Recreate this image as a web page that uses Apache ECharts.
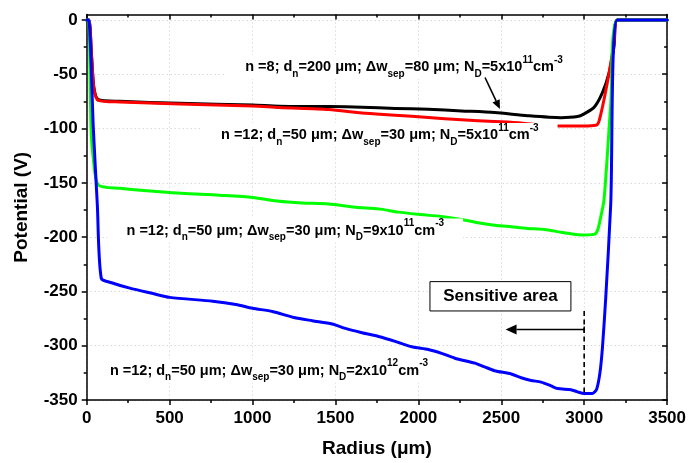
<!DOCTYPE html>
<html>
<head>
<meta charset="utf-8">
<script src="https://cdn.jsdelivr.net/npm/echarts@6/dist/echarts.min.js"></script>
<style>
  html, body { margin: 0; padding: 0; background: #fff; }
  #chart { width: 689px; height: 463px; }
</style>
</head>
<body>
<div id="chart"></div>
<script>
// Radial potential profiles (radius in µm, potential in V)
const blackRadius = [0, 14, 30, 44, 70, 200, 560, 1000, 1160, 1460, 1660, 1860, 2060, 2260, 2460, 2660, 2860, 2960, 3000, 3060, 3110, 3150, 3180, 3200, 3500];
const blackPotential = [0, 0, -35, -63, -73.5, -75, -76.8, -78.4, -79.5, -79.8, -80.3, -81.5, -82.3, -83.8, -85.3, -88.2, -90, -89, -86.5, -80.5, -67, -48.7, -24.4, 0, 0];

const redRadius = [0, 14, 30, 44, 70, 200, 560, 1000, 1160, 1460, 1660, 1860, 2060, 2260, 2460, 2620, 2720, 2820, 3000, 3070, 3085, 3100, 3120, 3150, 3180, 3200, 3500];
const redPotential = [0, 0, -35, -64, -74, -75.5, -77.5, -79.2, -80.7, -82.5, -85.7, -87.7, -89.9, -92, -93.5, -94.8, -96.5, -97.6, -97.7, -97, -95, -87, -73, -49, -21, 0, 0];

const greenRadius = [0, 12, 26, 40, 70, 200, 500, 800, 1000, 1160, 1300, 1460, 1620, 1760, 1880, 2000, 2140, 2250, 2350, 2460, 2560, 2660, 2760, 2860, 2980, 3060, 3080, 3095, 3120, 3160, 3200, 3500];
const greenPotential = [0, 0, -99, -128, -152, -155, -159, -161.5, -163.5, -167, -168.5, -169.5, -172.5, -174, -177, -179, -181, -183.5, -186.5, -189, -190.5, -192, -193, -195.5, -198, -197.5, -194, -185, -165, -78, 0, 0];

const blueRadius = [0, 12, 40, 64, 88, 150, 260, 400, 500, 760, 900, 1000, 1120, 1250, 1360, 1480, 1560, 1660, 1760, 1860, 1960, 2060, 2140, 2220, 2340, 2400, 2460, 2560, 2620, 2680, 2740, 2800, 2840, 2920, 2960, 3000, 3050, 3075, 3095, 3110, 3130, 3160, 3200, 3500];
const bluePotential = [0, 0, -100, -170, -238, -242, -247, -252, -255.5, -259, -262, -265.5, -268.5, -274, -277, -280, -284, -288, -291.5, -296, -301, -303.5, -307, -311.5, -316, -319.5, -323, -326, -329.5, -332, -333.5, -337, -339.5, -340.5, -342.5, -344, -344, -340, -325, -302, -256, -170, 0, 0];

// Axis ticks
const radiusTicks = [0, 500, 1000, 1500, 2000, 2500, 3000, 3500];
const potentialTicks = [-350, -300, -250, -200, -150, -100, -50, 0];

const FONT = 'Liberation Sans, Arial, Helvetica, sans-serif';

const pairs = (xs, ys) => xs.map((x, i) => [x, ys[i]]);

const chart = echarts.init(document.getElementById('chart'), null, { renderer: 'canvas' });

const frameLine = { show: true, onZero: false, lineStyle: { color: '#000', width: 1.5 } };
const tickStyle = { color: '#000', width: 1.5 };

function curve(name, color, xs, ys) {
  return {
    name, type: 'line', xAxisIndex: 0, yAxisIndex: 0,
    data: pairs(xs, ys),
    showSymbol: false, symbol: 'none',
    smooth: 0.25,
    lineStyle: { color, width: 3, join: 'round', cap: 'round' },
    itemStyle: { color },
    animation: false
  };
}

chart.setOption({
  backgroundColor: '#fff',
  animation: false,
  grid: { left: 86.7, right: 19, top: 14.5, bottom: 60, containLabel: false },
  xAxis: [
    {
      type: 'value', position: 'bottom', min: 0, max: 3500, interval: 500,
      axisLine: frameLine,
      axisTick: { show: true, length: 5, inside: false, lineStyle: tickStyle },
      minorTick: { show: true, splitNumber: 2, length: 3, lineStyle: tickStyle },
      axisLabel: {
        show: true, margin: 10, color: '#000', fontFamily: FONT, fontWeight: 'bold', fontSize: 17,
        customValues: radiusTicks, formatter: v => String(v)
      },
      splitLine: { show: true, lineStyle: { color: '#c8c8c8', width: 1, type: [1, 3] } },
      name: 'Radius (μm)', nameLocation: 'middle', nameGap: 39,
      nameTextStyle: { color: '#000', fontFamily: FONT, fontWeight: 'bold', fontSize: 19 }
    },
    {
      type: 'value', position: 'top', min: 0, max: 3500, interval: 500,
      axisLine: frameLine,
      axisTick: { show: true, length: 5, inside: true, lineStyle: tickStyle },
      minorTick: { show: true, splitNumber: 2, length: 3, lineStyle: tickStyle },
      axisLabel: { show: false },
      splitLine: { show: false }
    }
  ],
  yAxis: [
    {
      type: 'value', position: 'left', min: -350, max: 5, interval: 50,
      axisLine: frameLine,
      axisTick: { show: true, length: 5, inside: false, lineStyle: tickStyle, customValues: potentialTicks },
      minorTick: { show: true, splitNumber: 2, length: 3, lineStyle: tickStyle },
      axisLabel: {
        show: true, margin: 9, color: '#000', fontFamily: FONT, fontWeight: 'bold', fontSize: 17,
        customValues: potentialTicks, formatter: v => String(v)
      },
      splitLine: { show: true, lineStyle: { color: '#c8c8c8', width: 1, type: [1, 3] } },
      name: 'Potential (V)', nameLocation: 'middle', nameGap: 55, nameRotate: 90,
      nameTextStyle: { color: '#000', fontFamily: FONT, fontWeight: 'bold', fontSize: 19 }
    },
    {
      type: 'value', position: 'right', min: -350, max: 5, interval: 50,
      axisLine: frameLine,
      axisTick: { show: true, length: 5, inside: true, lineStyle: tickStyle, customValues: potentialTicks },
      minorTick: { show: true, splitNumber: 2, length: 3, lineStyle: tickStyle },
      axisLabel: { show: false },
      splitLine: { show: false }
    }
  ],
  series: [
    curve('n=8, ND=5e11', '#000000', blackRadius, blackPotential),
    curve('n=12, ND=5e11', '#ff0000', redRadius, redPotential),
    curve('n=12, ND=9e11', '#00ff00', greenRadius, greenPotential),
    curve('n=12, ND=2e12', '#0000ff', blueRadius, bluePotential)
  ]
});

// ---- Annotations, anchored in data coordinates ----
const px = (r, v) => chart.convertToPixel({ gridIndex: 0 }, [r, v]);

const mainStyle = { fontFamily: FONT, fontWeight: 'bold', fontSize: 14.5, lineHeight: 24, verticalAlign: 'middle', fill: '#000' };
const subStyle = { fontFamily: FONT, fontWeight: 'bold', fontSize: 10, lineHeight: 10, verticalAlign: 'bottom', fill: '#000' };
const supStyle = { fontFamily: FONT, fontWeight: 'bold', fontSize: 10, lineHeight: 17, verticalAlign: 'top', fill: '#000' };

function paramText(n, dn, dw, nd, ndExp) {
  return '{m|n =' + n + '; d}{s|n}{m|=' + dn + ' μm; Δw}{s|sep}{m|=' + dw +
    ' μm; N}{s|D}{m|=' + nd + 'x10}{p|' + ndExp + '}{m|cm}{p|-3}';
}

const labels = [
  { at: [956, -43.3], text: paramText(8, 200, 80, 5, 11) },
  { at: [810, -106], text: paramText(12, 50, 30, 5, 11) },
  { at: [240, -194], text: paramText(12, 50, 30, 9, 11) },
  { at: [140, -323], text: paramText(12, 50, 30, 2, 12) }
];

const PAD = 19;
const graphics = [];

labels.forEach(l => {
  const p = px(l.at[0], l.at[1]);
  graphics.push({
    type: 'text', x: p[0] - PAD, y: p[1], z: 100,
    style: {
      text: l.text, align: 'left', verticalAlign: 'middle',
      backgroundColor: '#fff', padding: [0, PAD, 0, PAD],
      rich: { m: mainStyle, s: subStyle, p: supStyle }
    }
  });
});

function arrowHead(tip, from, len, half) {
  const dx = tip[0] - from[0], dy = tip[1] - from[1];
  const d = Math.hypot(dx, dy);
  const ux = dx / d, uy = dy / d;
  const bx = tip[0] - ux * len, by = tip[1] - uy * len;
  return [tip, [bx - uy * half, by + ux * half], [bx + uy * half, by - ux * half]];
}

// Pointer from the n=8 label to its curve
const aStart = px(2402, -53), aEnd = px(2492, -82);
const aHead = arrowHead(aEnd, aStart, 9, 4);
graphics.push({ type: 'line', z: 101, shape: { x1: aStart[0], y1: aStart[1], x2: (aHead[1][0] + aHead[2][0]) / 2, y2: (aHead[1][1] + aHead[2][1]) / 2 }, style: { stroke: '#000', lineWidth: 1.6 } });
graphics.push({ type: 'polygon', z: 101, shape: { points: aHead }, style: { fill: '#000' } });

// Sensitive area box
const boxTL = px(2070, -241), boxBR = px(2920, -268);
graphics.push({
  type: 'rect', z: 100,
  shape: { x: boxTL[0], y: boxTL[1], width: boxBR[0] - boxTL[0], height: boxBR[1] - boxTL[1] },
  style: { fill: '#fff', stroke: '#000', lineWidth: 1 }
});
graphics.push({
  type: 'text', z: 101,
  x: (boxTL[0] + boxBR[0]) / 2, y: (boxTL[1] + boxBR[1]) / 2 + 0.5,
  style: { text: 'Sensitive area', align: 'center', verticalAlign: 'middle', fill: '#000', font: 'bold 17px ' + FONT }
});

// Edge of the sensitive area (dashed) and the arrow pointing inwards
const dTop = px(3000, -268), dBot = px(3000, -345);
graphics.push({ type: 'line', z: 101, shape: { x1: dTop[0], y1: dTop[1], x2: dBot[0], y2: dBot[1] }, style: { stroke: '#000', lineWidth: 1.6, lineDash: [5, 3.5] } });
const sStart = px(3000, -285), sTip = px(2526, -285);
const sHead = arrowHead(sTip, sStart, 11, 5);
graphics.push({ type: 'line', z: 101, shape: { x1: sStart[0], y1: sStart[1], x2: (sHead[1][0] + sHead[2][0]) / 2, y2: sStart[1] }, style: { stroke: '#000', lineWidth: 1.5 } });
graphics.push({ type: 'line', z: 101, shape: { x1: sStart[0], y1: sStart[1] - 3, x2: sStart[0], y2: sStart[1] + 3 }, style: { stroke: '#000', lineWidth: 1.5 } });
graphics.push({ type: 'polygon', z: 101, shape: { points: sHead }, style: { fill: '#000' } });

chart.setOption({ graphic: graphics });
</script>
</body>
</html>
